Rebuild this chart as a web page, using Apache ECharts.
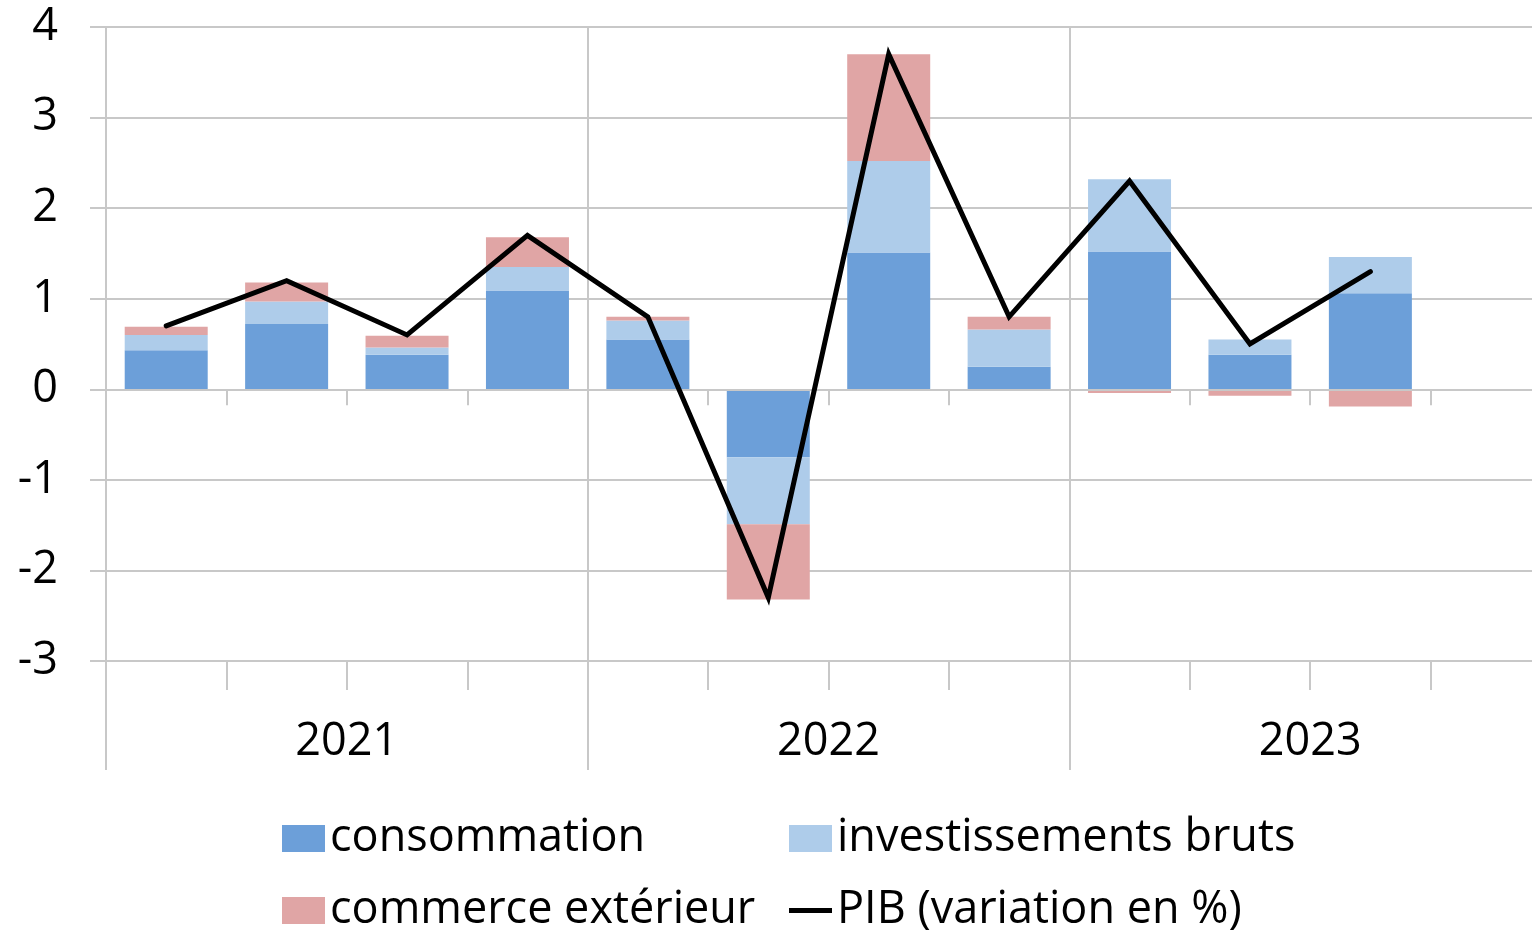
<!DOCTYPE html>
<html>
<head>
<meta charset="utf-8">
<script src="https://cdn.jsdelivr.net/npm/echarts@6/dist/echarts.min.js"></script>
<style>
  html, body { margin: 0; padding: 0; background: #fff; }
  #chart { width: 1532px; height: 931px; }
</style>
</head>
<body>
<div id="chart"></div>
<script>
// Quarterly contributions to GDP growth (percentage points)
const quarters = ['2021 T1', '2021 T2', '2021 T3', '2021 T4',
                  '2022 T1', '2022 T2', '2022 T3', '2022 T4',
                  '2023 T1', '2023 T2', '2023 T3', '2023 T4'];
const years = ['2021', '2022', '2023'];
const consommation = [0.43, 0.72, 0.38, 1.09, 0.55, -0.75, 1.51, 0.25, 1.52, 0.38, 1.06, null];
const investissements = [0.17, 0.25, 0.08, 0.26, 0.21, -0.74, 1.01, 0.41, 0.80, 0.17, 0.40, null];
const commerce = [0.09, 0.21, 0.13, 0.33, 0.04, -0.83, 1.18, 0.14, -0.04, -0.07, -0.19, null];
const pib = [0.7, 1.2, 0.6, 1.7, 0.8, -2.3, 3.7, 0.8, 2.3, 0.5, 1.3, null];
const yTicks = { min: -3, max: 4, step: 1 };

const names = {
  cons: 'consommation',
  inv: 'investissements bruts',
  comm: 'commerce extérieur',
  pib: 'PIB (variation en %)'
};

const FONT = 'Open Sans';
const GRID_COLOR = '#c8c8c8';
const TEXT = '#000';
const FS = 45;

function legendItem(name, left, top, itemHeight, color) {
  return {
    show: true,
    left: left,
    top: top,
    padding: 0,
    orient: 'horizontal',
    itemWidth: 43,
    itemHeight: itemHeight,
    selectedMode: false,
    data: [{ name: name, icon: 'rect', itemStyle: { color: color, borderWidth: 0 } }],
    textStyle: { fontFamily: FONT, fontSize: FS, color: TEXT }
  };
}

const chart = echarts.init(document.getElementById('chart'), null, { renderer: 'canvas' });

chart.setOption({
  animation: false,
  backgroundColor: '#fff',
  // the last quarter runs past the right edge of the canvas
  grid: { left: 106, top: 27, width: 1445, height: 634, containLabel: false, outerBoundsMode: 'none' },
  legend: [
    legendItem(names.cons, 282, 816, 27, '#6c9fd9'),
    legendItem(names.inv, 789, 816, 27, '#aeccea'),
    legendItem(names.comm, 282, 888, 27, '#e0a5a5'),
    legendItem(names.pib, 789, 888, 5, '#000')
  ],
  xAxis: [
    {
      // quarter axis crossing at zero
      type: 'category',
      data: quarters,
      position: 'bottom',
      z: 3,
      axisLine: { show: true, onZero: true, lineStyle: { color: GRID_COLOR, width: 2 } },
      axisTick: { show: true, interval: 0, length: 16, lineStyle: { color: GRID_COLOR, width: 2 } },
      axisLabel: { show: false },
      splitLine: { show: false }
    },
    {
      // quarter dividers below the plot
      type: 'category',
      data: quarters,
      position: 'bottom',
      axisLine: { show: false, onZero: false },
      axisTick: { show: true, interval: 0, length: 29, lineStyle: { color: GRID_COLOR, width: 2 } },
      axisLabel: { show: false },
      splitLine: { show: false }
    },
    {
      // year groups
      type: 'category',
      data: years,
      position: 'bottom',
      axisLine: { show: false, onZero: false },
      axisTick: { show: true, interval: 0, length: 109, lineStyle: { color: GRID_COLOR, width: 2 } },
      axisLabel: { show: true, interval: 0, margin: 59, fontFamily: FONT, fontSize: FS, color: TEXT },
      splitLine: { show: true, interval: 0, lineStyle: { color: GRID_COLOR, width: 2 } }
    }
  ],
  yAxis: {
    type: 'value',
    min: yTicks.min,
    max: yTicks.max,
    interval: yTicks.step,
    axisLine: { show: true, lineStyle: { color: GRID_COLOR, width: 2 } },
    axisTick: { show: true, length: 16, lineStyle: { color: GRID_COLOR, width: 2 } },
    axisLabel: { margin: 48, fontFamily: FONT, fontSize: FS, color: TEXT },
    splitLine: { show: true, lineStyle: { color: GRID_COLOR, width: 2 } }
  },
  series: [
    {
      name: names.cons, type: 'bar', stack: 'contrib', xAxisIndex: 0,
      barWidth: 83, data: consommation, itemStyle: { color: '#6c9fd9' }
    },
    {
      name: names.inv, type: 'bar', stack: 'contrib', xAxisIndex: 0,
      barWidth: 83, data: investissements, itemStyle: { color: '#aeccea' }
    },
    {
      name: names.comm, type: 'bar', stack: 'contrib', xAxisIndex: 0,
      barWidth: 83, data: commerce, itemStyle: { color: '#e0a5a5' }
    },
    {
      name: names.pib, type: 'line', xAxisIndex: 0, z: 5,
      data: pib, symbol: 'none', showSymbol: false,
      itemStyle: { color: '#000' },
      lineStyle: { color: '#000', width: 5, cap: 'round', join: 'miter' }
    }
  ]
});
</script>
</body>
</html>
